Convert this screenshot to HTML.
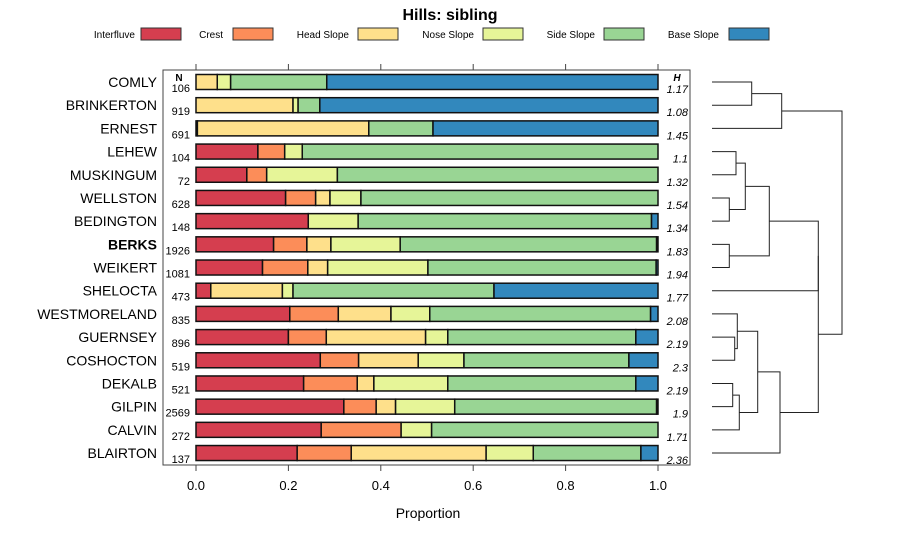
<!DOCTYPE html>
<html><head><meta charset="utf-8"><style>
body{margin:0;background:#fff;}
svg text{font-family:"Liberation Sans",sans-serif;}
</style></head><body>
<svg id="chart" width="900" height="540" xmlns="http://www.w3.org/2000/svg">
<text x="450" y="20" text-anchor="middle" font-size="16" font-weight="bold">Hills: sibling</text>
<g id="legend"></g>
<rect x="163" y="70" width="527" height="395" fill="none" stroke="#444"/>
<g id="axis"></g>
<g id="bars"></g>
<g id="dendro"></g>
<text x="428" y="518" text-anchor="middle" font-size="14">Proportion</text>
</svg>
<script>
const classes=["Interfluve","Crest","Head Slope","Nose Slope","Side Slope","Base Slope"];
const colors=["#D53E4F","#FC8D59","#FEE08B","#E6F598","#99D594","#3288BD"];
const series=["COMLY","BRINKERTON","ERNEST","LEHEW","MUSKINGUM","WELLSTON","BEDINGTON","BERKS","WEIKERT","SHELOCTA","WESTMORELAND","GUERNSEY","COSHOCTON","DEKALB","GILPIN","CALVIN","BLAIRTON"];
const nValues=[106,919,691,104,72,628,148,1926,1081,473,835,896,519,521,2569,272,137];
const hValues=["1.17","1.08","1.45","1.1","1.32","1.54","1.34","1.83","1.94","1.77","2.08","2.19","2.3","2.19","1.9","1.71","2.36"];
// cumulative boundaries (Interfluve, Crest, Head, Nose, Side); Base fills to 1
const cumProps=[
[0,0,0.046,0.075,0.283],
[0,0,0.210,0.221,0.268],
[0.003,0.003,0.374,0.374,0.513],
[0.134,0.192,0.192,0.230,1],
[0.110,0.153,0.153,0.306,1],
[0.194,0.259,0.290,0.357,1],
[0.243,0.243,0.243,0.351,0.986],
[0.168,0.240,0.292,0.442,0.997],
[0.144,0.242,0.285,0.502,0.996],
[0.032,0.032,0.187,0.210,0.645],
[0.203,0.308,0.422,0.506,0.984],
[0.200,0.282,0.497,0.545,0.952],
[0.269,0.352,0.481,0.580,0.937],
[0.233,0.349,0.385,0.545,0.952],
[0.320,0.390,0.432,0.560,0.997],
[0.271,0.444,0.444,0.510,1],
[0.219,0.336,0.628,0.730,0.963]];
const xTicks=[0,0.2,0.4,0.6,0.8,1.0];
const xTickLabels=["0.0","0.2","0.4","0.6","0.8","1.0"];
// dendrogram merges: [childA, childB, height]; negative = leaf index (-(i+1)), positive = merge index (1-based)
const merges=[
[-1,-2,751.7],[1,-3,781.7],
[-4,-5,736],[-6,-7,729.3],[3,4,745.3],[-8,-9,729.3],[5,6,769.3],
[-12,-13,734.7],[-11,8,737.3],[-14,-15,732.7],[10,-16,739.3],[9,11,757.7],[12,-17,780],
[7,-10,818.3],[14,13,818.3],[2,15,842]];

const NS="http://www.w3.org/2000/svg";
function mk(tag,attrs,parent,txt){const e=document.createElementNS(NS,tag);for(const k in attrs)e.setAttribute(k,attrs[k]);if(txt!==undefined)e.textContent=txt;parent.appendChild(e);return e;}
const x=v=>196+v*462;
const y=i=>82+i*23.19;

const lg=document.getElementById('legend');
const lgText=[135,223,349,474,595,719], lgBox=[141,233,358,483,604,729];
classes.forEach((c,i)=>{
 const t=mk('text',{x:lgText[i],y:38,'text-anchor':'end','font-size':10},lg,c);
 
 
 const r=mk('rect',{x:lgBox[i],y:28,width:40,height:12,fill:colors[i],stroke:'#333'},lg);
 
 
});

const ax=document.getElementById('axis');
xTicks.forEach((v,i)=>{
 mk('line',{x1:x(v),x2:x(v),y1:465,y2:471,stroke:'#444'},ax);
 mk('line',{x1:x(v),x2:x(v),y1:64,y2:70,stroke:'#444'},ax);
 const t=mk('text',{x:x(v),y:490,'text-anchor':'middle','font-size':13},ax,xTickLabels[i]);
 
 
});

const bg=document.getElementById('bars');
mk('text',{x:179,y:81,'text-anchor':'middle','font-size':10,'font-weight':'bold'},bg,'N');
mk('text',{x:677,y:81,'text-anchor':'middle','font-size':10,'font-weight':'bold','font-style':'italic'},bg,'H');
series.forEach((s,i)=>{
 const yc=y(i);
 const lab=mk('text',{x:157,y:yc+5,'text-anchor':'end','font-size':14,'font-weight':s==='BERKS'?'bold':'normal'},bg,s);
 
 
 const n=mk('text',{x:190,y:yc+10,'text-anchor':'end','font-size':11},bg,String(nValues[i]));
 
 
 const h=mk('text',{x:688,y:yc+11,'text-anchor':'end','font-size':11,'font-style':'italic'},bg,hValues[i]);
 
 
 const bounds=[0,...cumProps[i],1];
 for(let k=0;k<6;k++){
  const a=bounds[k],b=bounds[k+1];
  if(b-a<=0)continue;
  const r=mk('rect',{x:x(a),y:yc-7.5,width:x(b)-x(a),height:15,fill:colors[k],stroke:'#111','stroke-width':1.5},bg);
  
  
 }
});

const dg=document.getElementById('dendro');
const pos=[];
function node(id){ if(id<0) return {x:712,y:y(-id-1)}; return pos[id-1]; }
merges.forEach((m,i)=>{
 const a=node(m[0]),b=node(m[1]),hx=m[2];
 const p=mk('path',{d:`M${a.x},${a.y}H${hx}V${b.y}H${b.x}`,fill:'none',stroke:'#222','stroke-width':1},dg);
 
 
 pos.push({x:hx,y:(a.y+b.y)/2});
});
</script>
</body></html>
